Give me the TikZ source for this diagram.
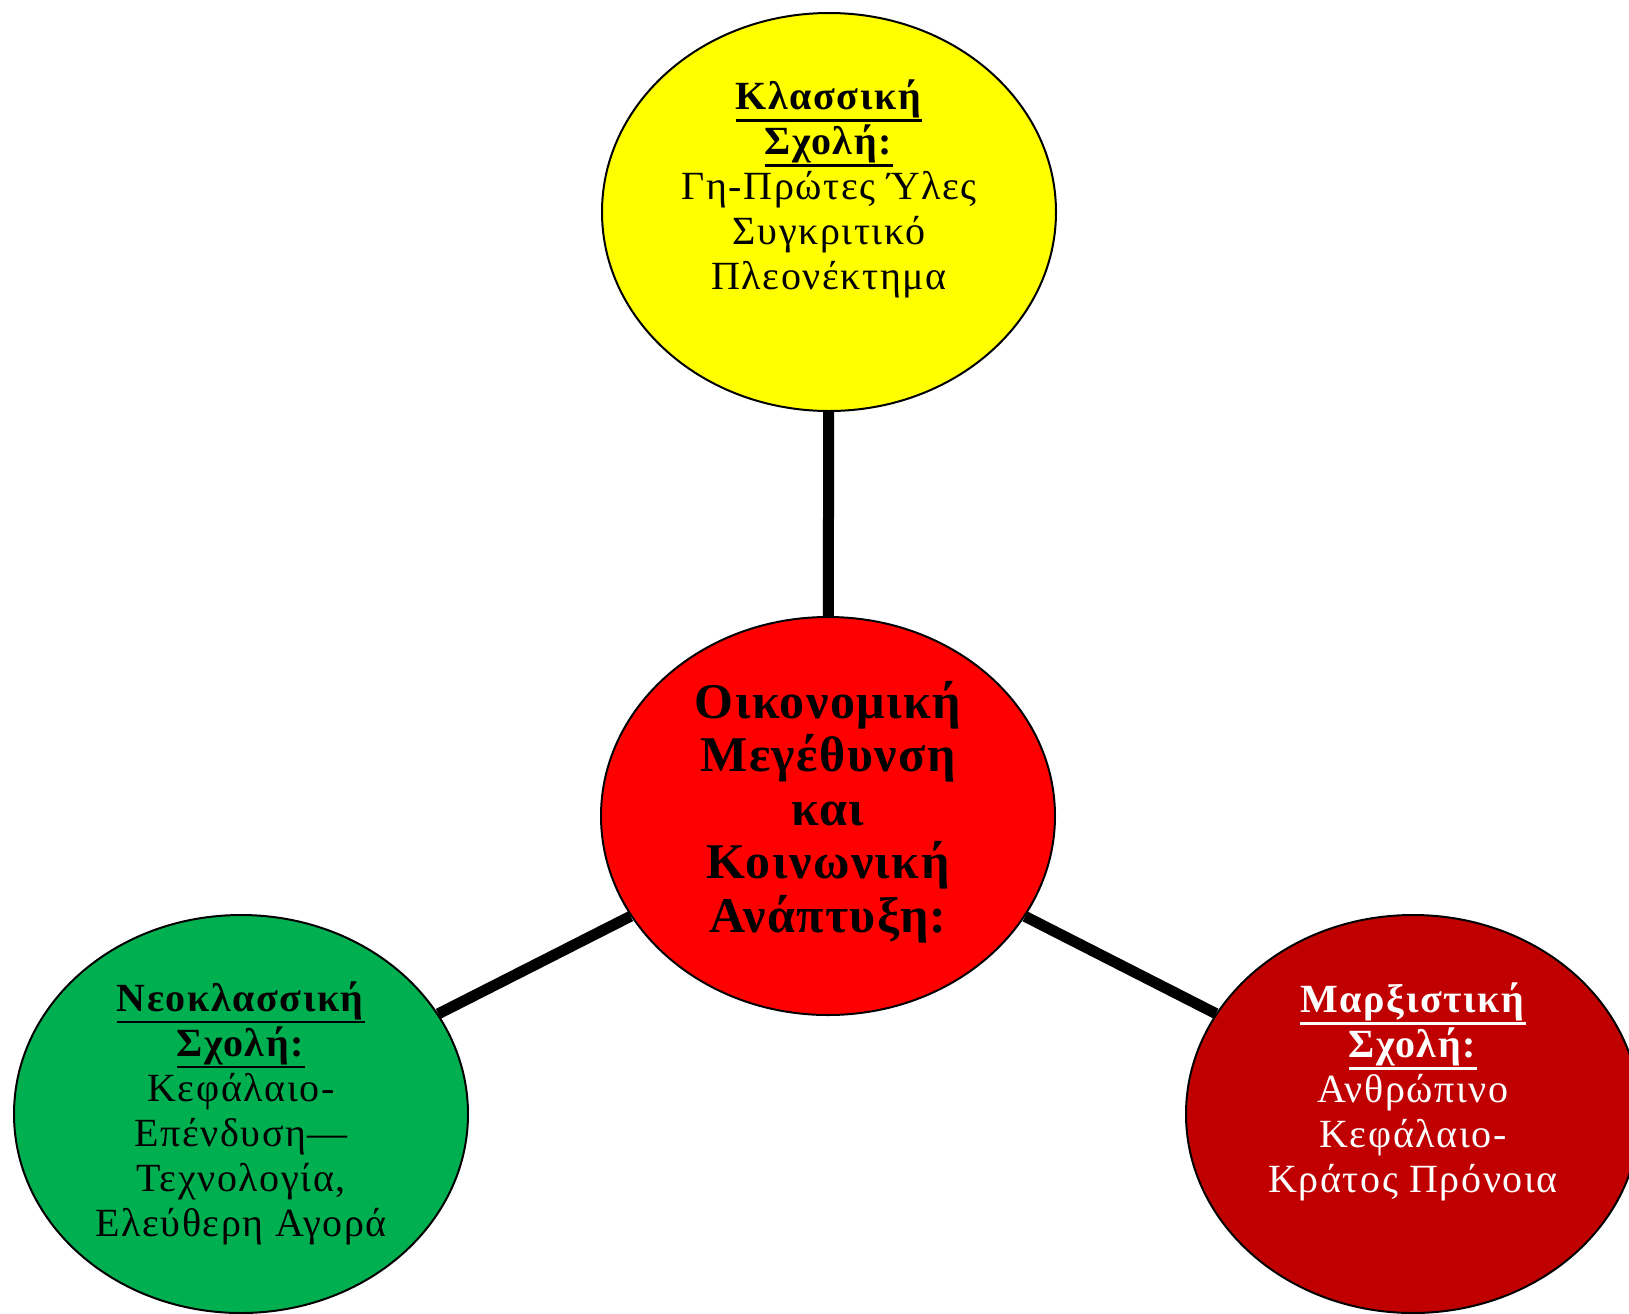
\documentclass[tikz,border=0pt]{standalone}
\usepackage{fontspec}
\setmainfont{Liberation Serif}
\usetikzlibrary{shapes.geometric}
\definecolor{cyellow}{HTML}{FFFF00}
\definecolor{cred}{HTML}{FF0000}
\definecolor{cgreen}{HTML}{00B050}
\definecolor{cdark}{HTML}{C00000}
\newcommand\hdr[1]{\setbox0\hbox{\textbf{#1}}\leavevmode\rlap{\rule[-6pt]{\wd0}{1.2pt}}\box0}
\tikzset{
  bubble/.style={ellipse, draw=black, line width=1pt, minimum width=227pt, minimum height=199pt, inner sep=0pt},
  conn/.style={line width=5.5pt, draw=black},
  bodytext/.style={align=center, inner sep=0pt, font=\fontsize{20}{22.5}\selectfont\addfontfeatures{LetterSpace=4}},
  maintext/.style={align=center, inner sep=0pt, font=\fontsize{25}{26.7}\selectfont\bfseries\addfontfeatures{LetterSpace=3}}
}
\begin{document}
\begin{tikzpicture}[x=0.5pt,y=-0.5pt]
\useasboundingbox (0,0) rectangle (1629,1313);
\clip (0,0) rectangle (1629,1313);
\fill[white] (0,0) rectangle (1629,1313);
\node[bubble, fill=cyellow] (Y) at (829,212) {};
\node[bubble, fill=cred] (R) at (828,816) {};
\node[bubble, fill=cgreen] (G) at (241,1114) {};
\node[bubble, fill=cdark] (M) at (1413,1114) {};
\draw[conn] (Y) -- (R);
\draw[conn] (R) -- (G);
\draw[conn] (R) -- (M);
\node[bodytext] (tY) at (829,189) {\hdr{Κλασσική}\\\hdr{Σχολή:}\\Γη-Πρώτες Ύλες\\Συγκριτικό\\Πλεονέκτημα};
\node[maintext] (tR) at (828,812) {Οικονομική\\Μεγέθυνση\\και\\Κοινωνική\\Ανάπτυξη:};
\node[bodytext] (tG) at (241,1113) {\hdr{Νεοκλασσική}\\\hdr{Σχολή:}\\Κεφάλαιο-\\Επένδυση—\\Τεχνολογία,\\Ελεύθερη Αγορά};
\node[bodytext, text=white] (tM) at (1413,1092) {\hdr{Μαρξιστική}\\\hdr{Σχολή:}\\Ανθρώπινο\\Κεφάλαιο-\\Κράτος Πρόνοια};
\end{tikzpicture}
\end{document}
